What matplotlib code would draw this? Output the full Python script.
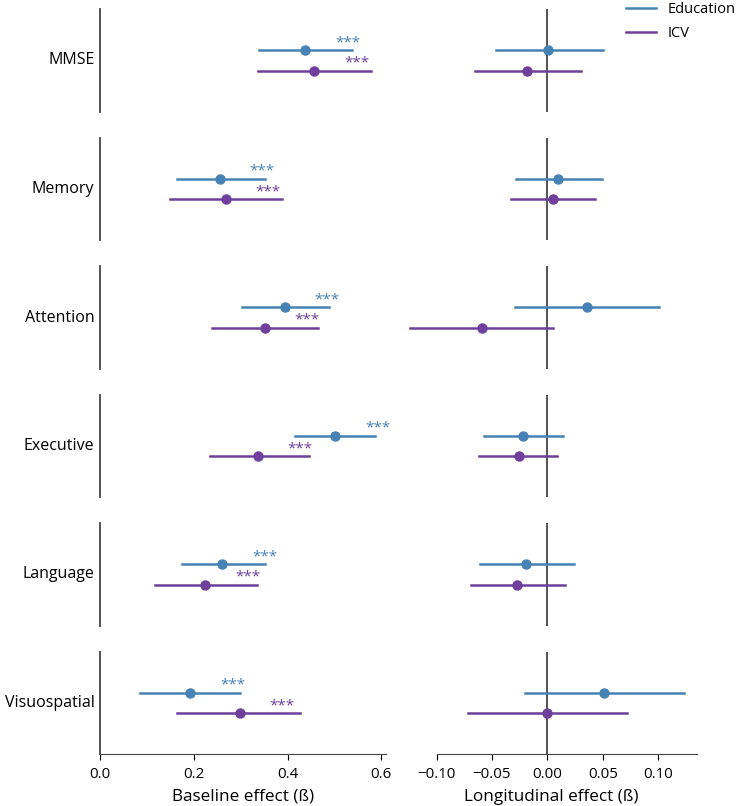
import matplotlib
matplotlib.use("Agg")
import matplotlib.pyplot as plt
from matplotlib.lines import Line2D

plt.rcParams['font.family'] = ['Open Sans', 'DejaVu Sans']

domains = ["MMSE", "Memory", "Attention", "Executive", "Language", "Visuospatial"]

# baseline effects (point, lower, upper)
base_edu = [0.438, 0.255, 0.394, 0.502, 0.261, 0.193]
base_edu_lo = [0.340, 0.164, 0.302, 0.416, 0.174, 0.086]
base_edu_hi = [0.537, 0.352, 0.489, 0.587, 0.351, 0.299]
base_icv = [0.457, 0.269, 0.351, 0.337, 0.225, 0.298]
base_icv_lo = [0.336, 0.149, 0.238, 0.234, 0.118, 0.165]
base_icv_hi = [0.578, 0.389, 0.466, 0.446, 0.334, 0.427]
base_edu_sig = ["***"] * 6
base_icv_sig = ["***"] * 6

# longitudinal effects (point, lower, upper)
long_edu = [0.001, 0.010, 0.036, -0.022, -0.019, 0.051]
long_edu_lo = [-0.046, -0.028, -0.029, -0.057, -0.061, -0.020]
long_edu_hi = [0.050, 0.049, 0.101, 0.014, 0.024, 0.123]
long_icv = [-0.018, 0.005, -0.059, -0.026, -0.027, 0.000]
long_icv_lo = [-0.065, -0.033, -0.124, -0.062, -0.069, -0.072]
long_icv_hi = [0.030, 0.043, 0.005, 0.009, 0.016, 0.072]

EDU_COLOR = "#4682b4"
ICV_COLOR = "#6f3f9c"
LINE_COLOR = "#444444"

W, H = 736, 806
fig = plt.figure(figsize=(W / 100, H / 100), dpi=100)

panel_top = 9.3
panel_h = 102.4
step = 128.5
left_x0, left_x1 = 100, 386
right_x0, right_x1 = 406.6, 696.9

for i, name in enumerate(domains):
    top = panel_top + i * step
    bottom = 1 - (top + panel_h) / H
    hfrac = panel_h / H

    # baseline panel
    ax = fig.add_axes([left_x0 / W, bottom, (left_x1 - left_x0) / W, hfrac])
    ax.plot([base_edu_lo[i], base_edu_hi[i]], [0.1, 0.1], color=EDU_COLOR, lw=1.8)
    ax.plot(base_edu[i], 0.1, "o", color=EDU_COLOR, ms=6.5)
    ax.plot([base_icv_lo[i], base_icv_hi[i]], [-0.1, -0.1], color=ICV_COLOR, lw=1.8)
    ax.plot(base_icv[i], -0.1, "o", color=ICV_COLOR, ms=6.5)
    ax.text(base_edu[i] + 0.09, 0.1, base_edu_sig[i], color=EDU_COLOR,
            ha="center", va="bottom", fontsize=11)
    ax.text(base_icv[i] + 0.09, -0.1, base_icv_sig[i], color=ICV_COLOR,
            ha="center", va="bottom", fontsize=11)
    ax.set_xlim(0, 0.61)
    ax.set_ylim(-0.5, 0.5)
    ax.set_yticks([])
    for s in ["top", "right"]:
        ax.spines[s].set_visible(False)
    ax.spines["left"].set_color(LINE_COLOR)
    ax.spines["left"].set_linewidth(1.3)
    ax.annotate(name, xy=(0, 0.5), xycoords="axes fraction", xytext=(-4, 0),
                textcoords="offset points", ha="right", va="center", fontsize=11.5)

    # longitudinal panel
    ax2 = fig.add_axes([right_x0 / W, bottom, (right_x1 - right_x0) / W, hfrac])
    ax2.axvline(0, color=LINE_COLOR, lw=1.3)
    ax2.plot([long_edu_lo[i], long_edu_hi[i]], [0.1, 0.1], color=EDU_COLOR, lw=1.8)
    ax2.plot(long_edu[i], 0.1, "o", color=EDU_COLOR, ms=6.5)
    ax2.plot([long_icv_lo[i], long_icv_hi[i]], [-0.1, -0.1], color=ICV_COLOR, lw=1.8)
    ax2.plot(long_icv[i], -0.1, "o", color=ICV_COLOR, ms=6.5)
    ax2.set_xlim(-0.127, 0.135)
    ax2.set_ylim(-0.5, 0.5)
    ax2.set_yticks([])
    for s in ["top", "right", "left"]:
        ax2.spines[s].set_visible(False)

    if i == len(domains) - 1:
        ax.set_xticks([0.0, 0.2, 0.4, 0.6])
        ax.set_xlabel("Baseline effect (ß)", fontsize=12.3, labelpad=5)
        ax.tick_params(axis="x", labelsize=10.8, length=4, pad=5)
        ax.spines["bottom"].set_color(LINE_COLOR)
        ax2.set_xticks([-0.10, -0.05, 0.0, 0.05, 0.10])
        ax2.set_xticklabels(["\u22120.10", "\u22120.05", "0.00", "0.05", "0.10"])
        ax2.set_xlabel("Longitudinal effect (ß)", fontsize=12.3, labelpad=5)
        ax2.tick_params(axis="x", labelsize=10.8, length=4, pad=5)
        ax2.spines["bottom"].set_bounds(-0.10, 0.135)
        ax2.spines["bottom"].set_color(LINE_COLOR)
    else:
        ax.set_xticks([])
        ax.spines["bottom"].set_visible(False)
        ax2.set_xticks([])
        ax2.spines["bottom"].set_visible(False)

handles = [Line2D([], [], color=EDU_COLOR, lw=1.8), Line2D([], [], color=ICV_COLOR, lw=1.8)]
fig.legend(handles, ["Education", "ICV"], loc="upper right", bbox_to_anchor=(1.012, 1.008),
           frameon=False, fontsize=10.5, handlelength=2.1, borderaxespad=0.2,
           labelspacing=0.6)

fig.savefig("out.png", dpi=100)
